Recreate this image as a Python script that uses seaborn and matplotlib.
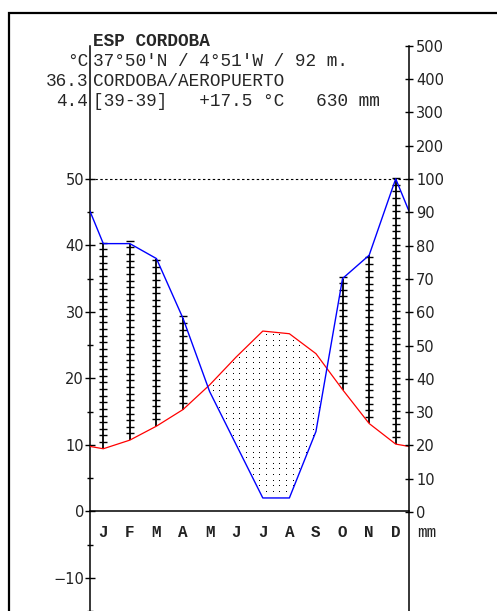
import numpy as np
import pandas as pd
import seaborn as sns
import matplotlib.pyplot as plt
from matplotlib.patches import Rectangle

months = ['J', 'F', 'M', 'A', 'M', 'J', 'J', 'A', 'S', 'O', 'N', 'D']
temp = [9.4, 10.7, 12.8, 15.3, 19.0, 23.2, 27.1, 26.7, 23.7, 18.3, 13.2, 10.1]
prec = [80.5, 80.5, 76, 58, 36, 20, 4, 4, 24, 70, 77, 100]

header_left = ['°C', '36.3', '4.4']
header_right = ["37°50'N / 4°51'W / 92 m.", 'CORDOBA/AEROPUERTO',
                '[39-39]   +17.5 °C   630 mm']
title = 'ESP CORDOBA'

left_ticks = [-10, 0, 10, 20, 30, 40, 50]
mm_ticks = [0, 10, 20, 30, 40, 50, 60, 70, 80, 90, 100, 200, 300, 400, 500]

W, H = 497, 611
MONO = 'Liberation Mono'


def mm_to_c(p):
    p = np.asarray(p, dtype=float)
    return np.where(p <= 100, p / 2, 50 + (p - 100) / 20)


def px(x, y):
    return x / W, 1 - y / H


sns.set_style('white')
plt.rcParams['font.family'] = ['DejaVu Sans']

# wrap the year so the lines run edge to edge
t_wrap = (temp[0] + temp[-1]) / 2
p_wrap = (prec[0] + prec[-1]) / 2
xpos = np.concatenate([[0], np.arange(12) + 0.5, [12]])
df = pd.DataFrame({
    'x': xpos,
    'temp': [t_wrap] + temp + [t_wrap],
    'prec': mm_to_c([p_wrap] + prec + [p_wrap]),
})

fig = plt.figure(figsize=(W / 100, H / 100), dpi=100)
ylo = (512 - 611) / 6.66
ytop = 70
ax = fig.add_axes([90 / W, 0, 319 / W, (611 - 45.8) / H])
ax.set_xlim(0, 12)
ax.set_ylim(ylo, ytop)
ax.patch.set_alpha(0)

# dry season dots, one pixel each
gx, gy = np.meshgrid(np.arange(0.12, 12, 0.25), np.arange(0.42, 35, 0.84))
tr = np.interp(gx, df['x'], df['temp'])
pr = np.interp(gx, df['x'], df['prec'])
m = (gy > pr + 0.3) & (gy < tr - 0.3)
ax.plot(gx[m], gy[m], linestyle='none', marker=',', color='black', zorder=2)

# humid bars with cross ticks
for i, (t, p) in enumerate(zip(temp, mm_to_c(prec))):
    if p > t:
        ax.vlines(i + 0.5, t, p, color='black', lw=1.3, zorder=3)
        ty = t + np.arange(1, p - t + 0.6, 1)
        ax.scatter(np.full(len(ty), i + 0.5), ty, marker='_', s=34,
                   color='black', linewidths=1.0, zorder=3)

sns.lineplot(data=df, x='x', y='temp', color='#ff0000', lw=0.9, ax=ax, zorder=4)
sns.lineplot(data=df, x='x', y='prec', color='#0000ff', lw=1.0, ax=ax, zorder=4)

ax.hlines(50, 0, 12, colors='black', linestyles=(0, (2.2, 2.2)), lw=0.8)

# axes look
for s in ['top', 'right']:
    ax.spines[s].set_visible(False)
ax.spines['left'].set_linewidth(1.1)
ax.spines['left'].set_color('black')
ax.spines['bottom'].set_position(('data', 0))
ax.spines['bottom'].set_linewidth(1.1)
ax.spines['bottom'].set_color('black')
ax.set_xticks(np.arange(1, 12))
ax.set_xticklabels([])
ax.tick_params(axis='x', direction='inout', length=6.5, width=1.0, color='black')
ax.set_yticks(left_ticks)
ax.set_yticks(np.arange(-15, 50, 10), minor=True)
ax.set_yticklabels(['−10' if v < 0 else str(v) for v in left_ticks])
ax.tick_params(axis='y', which='major', direction='inout', length=6.5, width=1.0,
               color='black', labelsize=10.5, labelcolor='#222222', pad=1)
ax.tick_params(axis='y', which='minor', direction='inout', length=4.5, width=1.0,
               color='black', left=True)
ax.set_xlabel('')
ax.set_ylabel('')

ax2 = ax.twinx()
ax2.set_ylim(ylo, ytop)
for s in ['top', 'left', 'bottom']:
    ax2.spines[s].set_visible(False)
ax2.spines['right'].set_linewidth(1.1)
ax2.spines['right'].set_color('black')
ax2.set_yticks(mm_to_c(mm_ticks))
ax2.set_yticklabels([str(v) for v in mm_ticks])
ax2.tick_params(axis='y', direction='inout', length=6, width=1.0, color='black',
                labelsize=10.5, labelcolor='#222222', pad=2)
ax2.set_ylabel('')

for i, mth in enumerate(months):
    ax.text(i + 0.5, -3.15, mth, ha='center', va='center', family=MONO,
            fontweight='bold', fontsize=11.5, color='#222222')
ax.text(12.3, -3.15, 'mm', ha='left', va='center', family=MONO,
        fontsize=11.5, color='#222222', clip_on=False)

# header
fig.text(*px(93, 46), title, family=MONO, fontweight='bold', fontsize=12.8,
         va='baseline', ha='left')
for k, (a, b) in enumerate(zip(header_left, header_right)):
    yb = [66, 86.5, 106][k]
    fig.text(*px(88, yb), a, family=MONO, fontsize=12.8, va='baseline', ha='right')
    fig.text(*px(93, yb), b, family=MONO, fontsize=12.8, va='baseline', ha='left')

fig.add_artist(Rectangle(px(8.5, 700), 600 / W, (700 - 12.5) / H,
                         transform=fig.transFigure, fill=False,
                         edgecolor='black', lw=1.6))

fig.savefig('out.png', dpi=100)
